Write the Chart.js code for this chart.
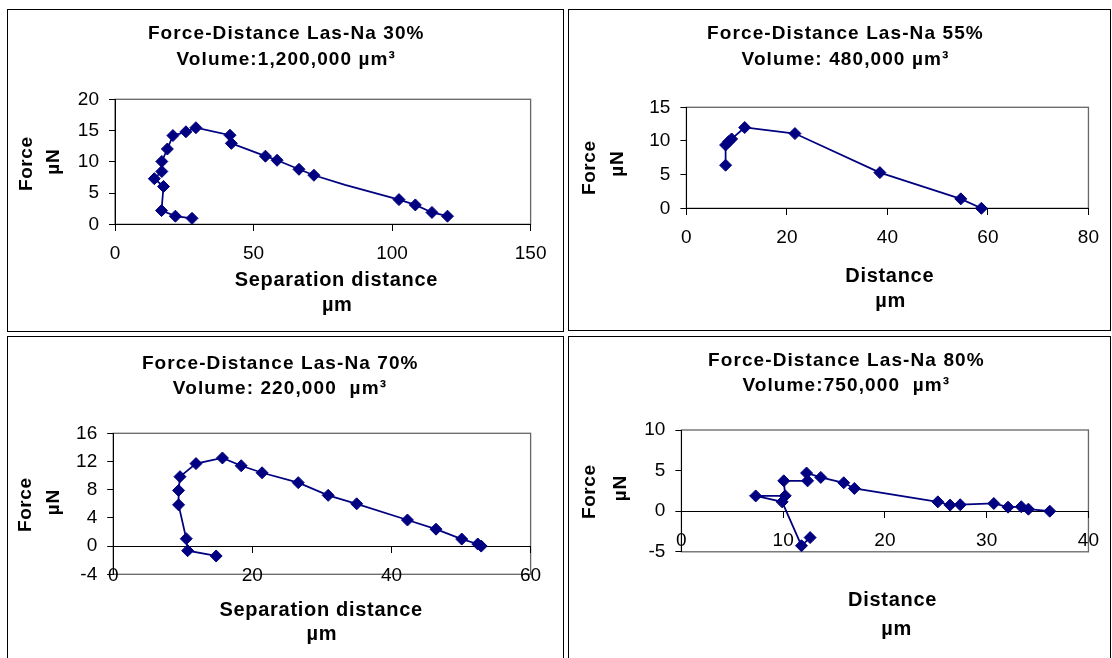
<!DOCTYPE html>
<html>
<head>
<meta charset="utf-8">
<script src="https://cdn.jsdelivr.net/npm/chart.js@4.4.1/dist/chart.umd.min.js"></script>
<style>
  html, body { margin: 0; padding: 0; background: #fff; }
  body { width: 1112px; height: 658px; position: relative; overflow: hidden; }
  .panel { position: absolute; border: 1px solid #000; box-sizing: border-box; }
  .panel canvas { position: absolute; left: -1px; top: -1px; }
</style>
</head>
<body>
<div class="panel" id="p30"><canvas id="c30"></canvas></div>
<div class="panel" id="p55"><canvas id="c55"></canvas></div>
<div class="panel" id="p70"><canvas id="c70"></canvas></div>
<div class="panel" id="p80"><canvas id="c80"></canvas></div>

<script>
// ---- data (distance in µm, force in µN) ----
const dist30  = [120.0, 114.4, 108.4, 102.5, 83.0, 71.8, 66.4, 58.5, 54.3, 42.0, 41.5, 29.2, 25.6, 20.9, 18.9, 16.9, 16.9, 14.2, 17.5, 16.8, 21.8, 27.8];
const force30 = [1.3, 1.9, 3.1, 3.95, 6.3, 7.85, 8.8, 10.25, 10.9, 12.95, 14.25, 15.45, 14.8, 14.2, 12.05, 10.05, 8.45, 7.3, 6.05, 2.2, 1.3, 0.95];

const dist55  = [58.7, 54.6, 38.5, 21.6, 11.6, 9.0, 8.4, 7.8, 7.8];
const force55 = [0.0, 1.4, 5.3, 11.1, 12.0, 10.3, 9.9, 9.4, 6.4];

const dist70  = [52.9, 52.4, 50.1, 46.4, 42.3, 35.0, 30.9, 26.6, 21.4, 18.4, 15.7, 11.9, 9.6, 9.4, 9.4, 10.5, 10.7, 14.8];
const force70 = [0.0, 0.3, 1.0, 2.4, 3.7, 6.0, 7.2, 9.0, 10.4, 11.4, 12.5, 11.7, 9.85, 7.9, 5.85, 1.05, -0.65, -1.4];

const dist80  = [36.2, 34.1, 33.4, 32.1, 30.7, 27.4, 26.4, 25.2, 17.0, 15.95, 13.7, 12.3, 12.4, 10.06, 10.2, 7.3, 9.9, 11.8, 12.65];
const force80 = [0.0, 0.25, 0.55, 0.5, 0.95, 0.8, 0.75, 1.15, 2.8, 3.5, 4.16, 4.7, 3.74, 3.74, 1.9, 1.88, 1.15, -4.25, -3.25];

// axis tick values
const xTicks30 = [0, 50, 100, 150];   const yTicks30 = [0, 5, 10, 15, 20];
const xTicks55 = [0, 20, 40, 60, 80]; const yTicks55 = [0, 5, 10, 15];
const xTicks70 = [0, 20, 40, 60];     const yTicks70 = [-4, 0, 4, 8, 12, 16];
const xTicks80 = [0, 10, 20, 30, 40]; const yTicks80 = [-5, 0, 5, 10];

// text
const title30 = ["Force-Distance Las-Na 30%", "Volume:1,200,000 µm³"];
const title55 = ["Force-Distance Las-Na 55%", "Volume: 480,000 µm³"];
const title70 = ["Force-Distance Las-Na 70%", "Volume: 220,000  µm³"];
const title80 = ["Force-Distance Las-Na 80%", "Volume:750,000  µm³"];
const yTitle = ["Force", "µN"];
const xTitleSep = ["Separation distance", "µm"];
const xTitleDist = ["Distance", "µm"];

// ---- layout (page pixels) ----
const FONT = '"Liberation Sans", Arial, sans-serif';
const NAVY = "#000080";
const Y_W = 60;

// text rows: [string, centre x, centre y, size, letter spacing, rotated]
const panels = [
  { el: "p30", cv: "c30", box: [7, 9, 557, 323], plot: [115, 99.3, 530.6, 224.3],
    xs: dist30, ys: force30, xTicks: xTicks30, yTicks: yTicks30, unmarked: 4,
    text: [
      [title30[0], 285.7, 33.3, 19, 1.1, 0], [title30[1], 285.7, 59.5, 19, 1.1, 0],
      [yTitle[0], 27.1, 164, 19, 0.6, 1], [yTitle[1], 54.2, 162, 19, 0.6, 1],
      [xTitleSep[0], 336, 280.3, 20, 0.7, 0], [xTitleSep[1], 336.9, 305, 20, 0.7, 0]
    ] },
  { el: "p55", cv: "c55", box: [568, 9, 543, 322], plot: [686.4, 107.3, 1089.8, 208.3],
    xs: dist55, ys: force55, xTicks: xTicks55, yTicks: yTicks55, unmarked: -1,
    text: [
      [title55[0], 844.9, 33.3, 19, 1.1, 0], [title55[1], 844.9, 59.5, 19, 1.1, 0],
      [yTitle[0], 589.4, 168, 19, 0.6, 1], [yTitle[1], 617.3, 164, 19, 0.6, 1],
      [xTitleDist[0], 889.4, 276.7, 20, 0.7, 0], [xTitleDist[1], 890.2, 301.5, 20, 0.7, 0]
    ] },
  { el: "p70", cv: "c70", box: [7, 336, 557, 330], plot: [113.2, 433.3, 530.6, 574.3],
    xs: dist70, ys: force70, xTicks: xTicks70, yTicks: yTicks70, unmarked: -1,
    text: [
      [title70[0], 279.7, 363.3, 19, 1.1, 0], [title70[1], 279.4, 389, 19, 1.1, 0],
      [yTitle[0], 26, 505, 19, 0.6, 1], [yTitle[1], 54.2, 502.5, 19, 0.6, 1],
      [xTitleSep[0], 320.8, 610, 20, 0.7, 0], [xTitleSep[1], 321.5, 634.5, 20, 0.7, 0]
    ] },
  { el: "p80", cv: "c80", box: [568, 336, 543, 330], plot: [681.4, 430, 1093.5, 551.8],
    xs: dist80, ys: force80, xTicks: xTicks80, yTicks: yTicks80, unmarked: -1,
    text: [
      [title80[0], 845.8, 360.7, 19, 1.1, 0], [title80[1], 845.8, 386.2, 19, 1.1, 0],
      [yTitle[0], 589.6, 492, 19, 0.6, 1], [yTitle[1], 620.3, 488.5, 19, 0.6, 1],
      [xTitleDist[0], 892.2, 600.5, 20, 0.7, 0], [xTitleDist[1], 896.3, 629.5, 20, 0.7, 0]
    ] }
];

// gray plot-area frame, drawn under the axes
const plotFrame = {
  id: "plotFrame",
  beforeDraw(chart) {
    const { ctx, chartArea: a } = chart;
    ctx.save();
    ctx.strokeStyle = "#666";
    ctx.lineWidth = 1.3;
    ctx.strokeRect(a.left, a.top, a.right - a.left, a.bottom - a.top);
    ctx.restore();
  }
};

// titles and axis titles, placed like the original sheet
const panelText = {
  id: "panelText",
  afterDraw(chart, args, opts) {
    const ctx = chart.ctx;
    for (const [str, x, y, size, sp, rot] of opts.items) {
      ctx.save();
      ctx.fillStyle = "#000";
      ctx.textAlign = "center";
      ctx.textBaseline = "middle";
      ctx.letterSpacing = sp + "px";
      ctx.font = `bold ${size}px ${FONT}`;
      ctx.translate(x - opts.ox + (rot ? 0 : sp / 2), y - opts.oy - (rot ? sp / 2 : 0));
      if (rot) ctx.rotate(-Math.PI / 2);
      ctx.fillText(str, 0, 0);
      ctx.restore();
    }
  }
};

Chart.defaults.font.family = FONT;
Chart.defaults.color = "#000";

for (const p of panels) {
  const [bx, by, bw, bh] = p.box;
  const div = document.getElementById(p.el);
  Object.assign(div.style, { left: bx + "px", top: by + "px", width: bw + "px", height: bh + "px" });
  const canvas = document.getElementById(p.cv);
  canvas.width = bw; canvas.height = bh;
  canvas.style.width = bw + "px"; canvas.style.height = bh + "px";

  const l = p.plot[0] - bx, t = p.plot[1] - by, r = p.plot[2] - bx, b = p.plot[3] - by;

  const axisCommon = {
    type: "linear",
    grid: { drawOnChartArea: false, drawTicks: true, tickLength: 6, color: "#000", lineWidth: 1 },
    border: { display: true, color: "#000", width: 1 }
  };

  new Chart(canvas, {
    type: "scatter",
    data: {
      datasets: [{
        data: p.xs.map((x, i) => ({ x, y: p.ys[i] })),
        showLine: true,
        borderColor: NAVY,
        borderWidth: 1.75,
        backgroundColor: NAVY,
        pointStyle: "rectRot",
        pointRadius: ctx => ctx.dataIndex === p.unmarked ? 0 : 6,
        pointBorderColor: NAVY,
        pointBorderWidth: 1,
        tension: 0,
        clip: false
      }]
    },
    options: {
      responsive: false,
      animation: false,
      events: [],
      layout: { padding: { left: l - Y_W, top: t, right: bw - r, bottom: bh - b } },
      plugins: {
        legend: { display: false },
        tooltip: { enabled: false },
        panelText: { items: p.text, ox: bx, oy: by }
      },
      scales: {
        x: {
          ...axisCommon,
          position: { y: 0 },
          min: p.xTicks[0], max: p.xTicks[p.xTicks.length - 1],
          afterBuildTicks: s => { s.ticks = p.xTicks.map(v => ({ value: v })); },
          afterFit: s => { s.height = 0; },
          ticks: { font: { size: 19 }, color: "#000", padding: 12, maxRotation: 0, autoSkip: false, callback: v => String(v) }
        },
        y: {
          ...axisCommon,
          position: "left",
          min: p.yTicks[0], max: p.yTicks[p.yTicks.length - 1],
          afterBuildTicks: s => { s.ticks = p.yTicks.map(v => ({ value: v })); },
          afterFit: s => { s.width = Y_W; },
          ticks: { font: { size: 19 }, color: "#000", padding: 10, autoSkip: false, callback: v => String(v) }
        }
      }
    },
    plugins: [plotFrame, panelText]
  });
}
</script>
</body>
</html>
